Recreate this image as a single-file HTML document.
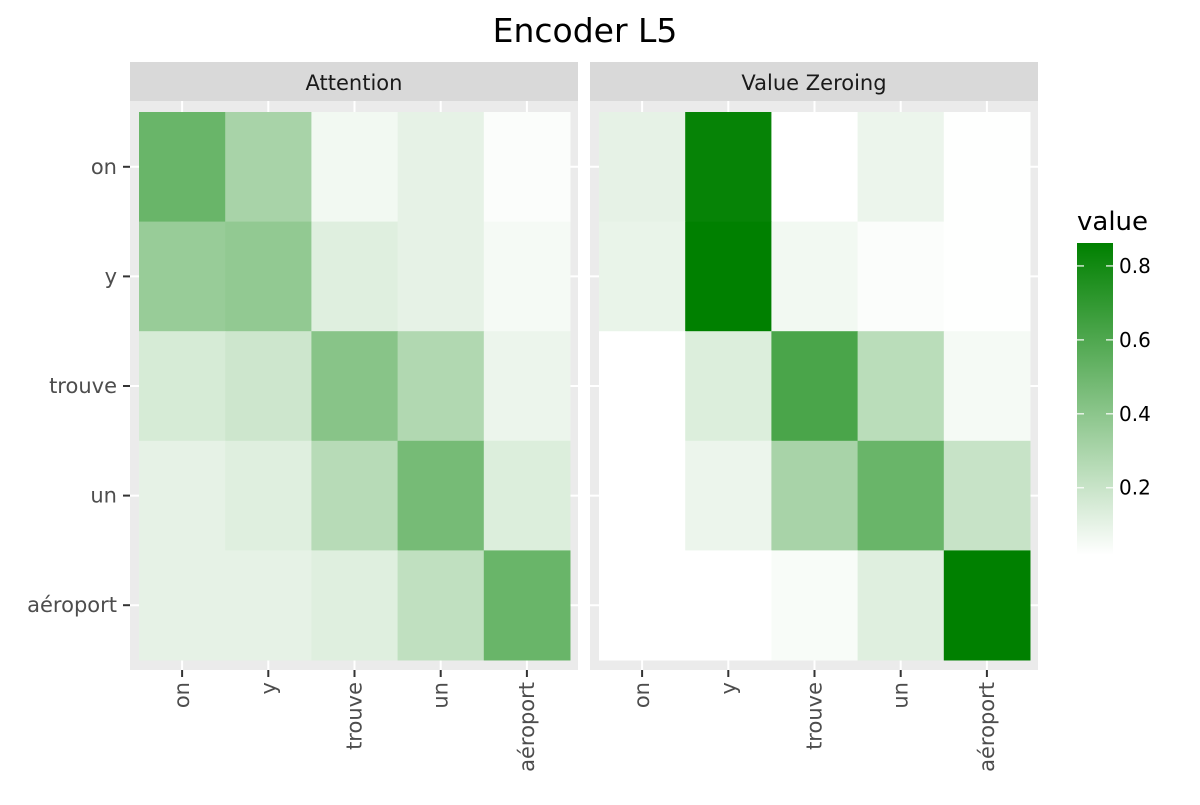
<!DOCTYPE html>
<html><head><meta charset="utf-8"><style>
body{margin:0;background:#fff;font-family:"Liberation Sans","DejaVu Sans",sans-serif}
</style></head><body>
<svg id="chart" width="1200" height="800" xmlns="http://www.w3.org/2000/svg" font-family="DejaVu Sans, Liberation Sans, sans-serif">
<rect width="1200" height="800" fill="#fff"/>
<text x="585" y="42" font-size="33" text-anchor="middle" fill="#000">Encoder L5</text>
<g id="panels"></g>
<g id="legend">
<text x="1077" y="230" font-size="26" fill="#000">value</text>
<defs><linearGradient id="lg" x1="0" y1="1" x2="0" y2="0"><stop offset="0" stop-color="#ffffff"/><stop offset="1" stop-color="#008000"/></linearGradient></defs>
<rect x="1077" y="243" width="36" height="312" fill="url(#lg)"/>
</g>
</svg>
<script>
const tokens=["on","y","trouve","un","aéroport"];
const attention=[[0.5,0.3,0.06,0.1,0.03],[0.35,0.37,0.12,0.1,0.05],[0.15,0.18,0.4,0.27,0.08],[0.1,0.12,0.25,0.46,0.13],[0.1,0.1,0.12,0.22,0.5]];
const valueZeroing=[[0.1,0.82,0.01,0.08,0.02],[0.09,0.84,0.06,0.03,0.02],[0.0,0.13,0.6,0.24,0.05],[0.0,0.08,0.3,0.5,0.2],[0.0,0.01,0.04,0.12,0.84]];
const legendTicks=[0.2,0.4,0.6,0.8];
const vmin=0.018,vmax=0.84;
const NS="http://www.w3.org/2000/svg";
const pg=document.getElementById('panels');
function mk(t,a,p){const e=document.createElementNS(NS,t);for(const k in a)e.setAttribute(k,a[k]);(p||pg).appendChild(e);return e;}
function col(v){let t=Math.max(0,Math.min(1,(v-vmin)/(vmax-vmin)));const r=Math.round(255*(1-t)),g=Math.round(255-127*t),b=Math.round(255*(1-t));return `rgb(${r},${g},${b})`;}
const gridTop=112,cellH=109.6,cellW=86.2;
function yS(i){return gridTop+i*cellH;}
const panels=[{name:"Attention",x0:130,data:attention},{name:"Value Zeroing",x0:590,data:valueZeroing}];
panels.forEach((p,pi)=>{
  const g=mk('g',{});
  
  
  mk('rect',{x:p.x0,y:62,width:448,height:39,fill:'#d9d9d9'},g);
  const st=mk('text',{x:p.x0+224,y:90,'font-size':21,'text-anchor':'middle',fill:'#1a1a1a'},g);st.textContent=p.name;
  
  
  mk('rect',{x:p.x0,y:101,width:448,height:569,fill:'#ebebeb'},g);
  const cx0=p.x0+9;
  tokens.forEach((t,i)=>{
    const cx=cx0+(i+0.5)*cellW, cy=yS(i)+cellH/2;
    mk('line',{x1:cx,x2:cx,y1:101,y2:670,stroke:'#fff','stroke-width':2},g);
    mk('line',{x1:p.x0,x2:p.x0+448,y1:cy,y2:cy,stroke:'#fff','stroke-width':2},g);
  });
  p.data.forEach((row,r)=>row.forEach((v,c)=>{
    const rc=mk('rect',{x:cx0+c*cellW,y:yS(r),width:cellW+0.5,height:cellH+0.5,fill:col(v)},g);
    
    
  }));
  tokens.forEach((t,i)=>{
    const cx=cx0+(i+0.5)*cellW;
    mk('line',{x1:cx,x2:cx,y1:670,y2:677,stroke:'#333','stroke-width':2},g);
    const tx=mk('text',{x:0,y:0,'font-size':21,'text-anchor':'end',fill:'#4d4d4d',transform:`translate(${cx+7},682) rotate(-90)`},g);tx.textContent=t;
    
    
  });
  if(pi===0){tokens.forEach((t,i)=>{
    const cy=yS(i)+cellH/2;
    mk('line',{x1:123,x2:130,y1:cy,y2:cy,stroke:'#333','stroke-width':2},g);
    const ty=mk('text',{x:117,y:cy+7,'font-size':21,'text-anchor':'end',fill:'#4d4d4d'},g);ty.textContent=t;
    
    
  });}
});
const lg=document.getElementById('legend');
legendTicks.forEach(v=>{
  const y=555-(v-vmin)/(vmax-vmin+0.022)*312;
  mk('line',{x1:1077,x2:1084,y1:y,y2:y,stroke:'#fff','stroke-width':1.5,opacity:0.8},lg);
  mk('line',{x1:1106,x2:1113,y1:y,y2:y,stroke:'#fff','stroke-width':1.5,opacity:0.8},lg);
  const t=mk('text',{x:1119,y:y+7,'font-size':20,fill:'#000'},lg);t.textContent=v.toFixed(1);
  
  
});
</script>
</body></html>
